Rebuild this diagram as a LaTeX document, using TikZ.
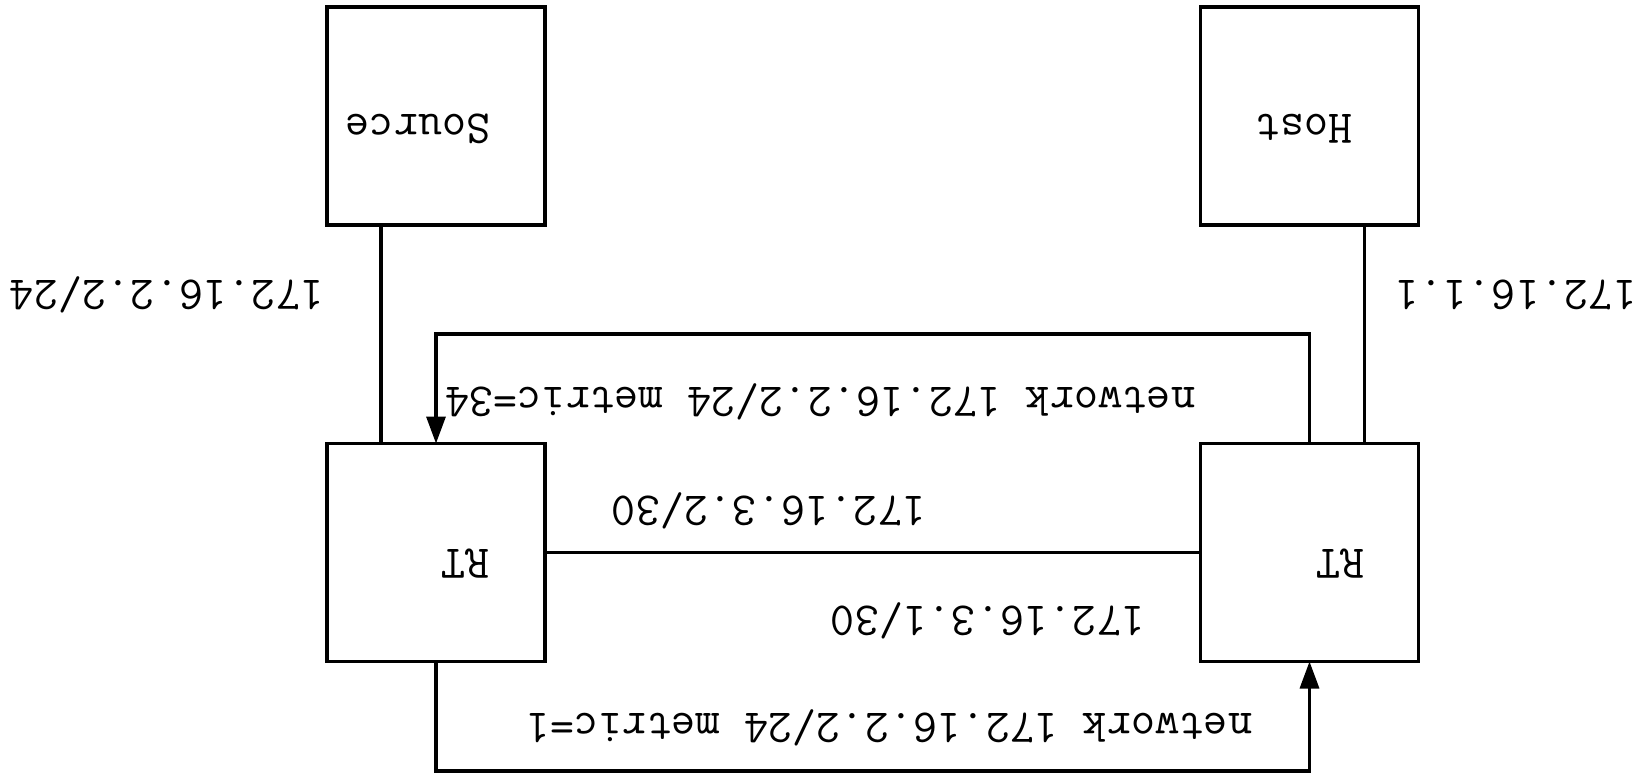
\documentclass[tikz,border=0pt]{standalone}
\usepackage{fontspec}
\usetikzlibrary{arrows.meta}
\tikzset{
  box/.style={draw, line width=3.3pt, minimum width=218pt, minimum height=218pt, inner sep=0pt, outer sep=0pt},
  lbl/.style={rotate=180, inner sep=0pt, font=\ttfamily\fontsize{47}{56}\selectfont},
  wire/.style={line width=3.3pt},
  arr/.style={line width=3.3pt, -{Triangle[length=27pt,width=19pt]}}
}
\begin{document}
\begin{tikzpicture}[x=1pt,y=-1pt]
\useasboundingbox[fill=white] (0,0) rectangle (1644,778);
\node[box] (src) at (436,116) {};
\node[box] (host) at (1309.5,116) {};
\node[box] (ra) at (436,552.5) {};
\node[box] (rb) at (1309.5,552.5) {};
\node[lbl] (tsrc) at (418,129) {Source};
\node[lbl] (thost) at (1304,129) {Host};
\node[lbl] (tra) at (465,564) {RT};
\node[lbl] (trb) at (1340,564) {RT};
\node[lbl] (l1) at (167,295) {172.16.2.2/24};
\node[lbl] (l2) at (1516,295) {172.16.1.1};
\node[lbl] (l3) at (820,402) {network 172.16.2.2/24 metric=34};
\node[lbl] (l4) at (769,511) {172.16.3.2/30};
\node[lbl] (l5) at (988,621) {172.16.3.1/30};
\node[lbl] (l6) at (889,728) {network 172.16.2.2/24 metric=1};
\draw[wire] ([xshift=-55pt]src.south) -- ([xshift=-55pt]ra.north);
\draw[wire] ([xshift=55pt]host.south) -- ([xshift=55pt]rb.north);
\draw[wire] (ra.east) -- (rb.west);
\coordinate (topy) at (0,334);
\coordinate (boty) at (0,771);
\draw[arr] (rb.north) -- (rb.north |- topy) -- (ra.north |- topy) -- (ra.north);
\draw[arr] (ra.south) -- (ra.south |- boty) -- (rb.south |- boty) -- (rb.south);
\end{tikzpicture}
\end{document}
